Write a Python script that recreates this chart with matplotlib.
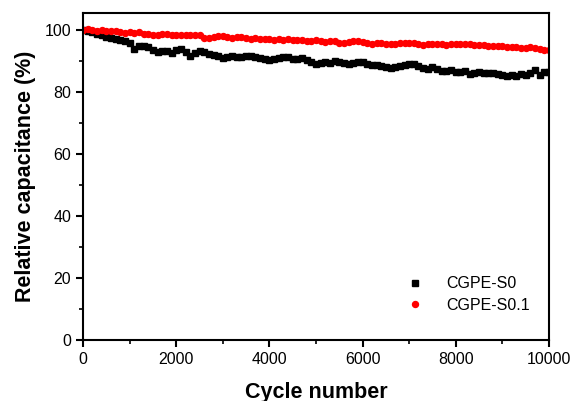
import matplotlib
matplotlib.use("Agg")
import matplotlib.pyplot as plt
import numpy as np

plt.rcParams['font.family'] = ['Liberation Sans', 'DejaVu Sans']

cycles = list(range(0, 10001, 100))

s0 = [100, 99.6, 99.2, 98.6, 98.2, 97.8, 97.4, 97.1, 96.8, 96.5,
      95.8, 94.0, 94.8, 94.9, 94.4, 93.6, 93.0, 93.2, 93.1, 92.4,
      93.6, 93.8, 92.9, 91.5, 92.6, 93.1, 92.8, 92.2, 92.0, 91.5,
      90.9, 91.2, 91.6, 91.4, 91.3, 91.6, 91.7, 91.3, 90.8, 90.5,
      90.2, 90.6, 90.9, 91.2, 91.1, 90.6, 90.5, 90.8, 90.2, 89.5,
      89.1, 89.4, 89.7, 89.3, 90.1, 89.8, 89.2, 89.1, 89.4, 89.6,
      89.5, 89.0, 88.6, 88.7, 88.4, 88.1, 87.7, 88.0, 88.3, 88.6,
      88.9, 89.1, 88.4, 87.6, 87.5, 87.9, 87.3, 86.6, 86.9, 87.2,
      86.5, 86.3, 86.6, 85.8, 86.2, 86.3, 86.0, 86.2, 86.1, 85.9,
      85.5, 85.2, 85.4, 85.1, 85.9, 85.6, 86.1, 87.0, 85.6, 86.4,
      86.3]

s01 = [100, 100.2, 99.9, 99.6, 99.9, 99.5, 99.6, 99.8, 99.3, 99.1,
       99.2, 98.9, 99.3, 98.8, 98.6, 98.5, 98.2, 98.6, 98.8, 98.5,
       98.4, 98.4, 98.2, 98.3, 98.5, 98.3, 97.5, 97.4, 97.6, 97.9,
       98.0, 97.6, 97.4, 97.6, 97.7, 97.3, 97.2, 97.4, 97.0, 97.1,
       97.2, 96.9, 97.0, 96.8, 97.0, 96.9, 96.7, 96.8, 96.5, 96.4,
       96.6, 96.3, 96.2, 96.5, 96.3, 95.9, 95.8, 96.0, 96.3, 96.4,
       96.1, 95.8, 95.6, 95.9, 95.7, 95.5, 95.3, 95.5, 95.7, 95.8,
       95.9, 95.7, 95.4, 95.0, 95.3, 95.4, 95.3, 95.4, 95.2, 95.5,
       95.4, 95.6, 95.5, 95.3, 95.2, 95.1, 95.0, 94.9, 94.8, 94.9,
       94.7, 94.6, 94.5, 94.5, 94.3, 94.2, 94.4, 94.1, 94.0, 93.6,
       93.4]

labels = ["CGPE-S0", "CGPE-S0.1"]

fig = plt.figure(figsize=(5.73, 4.01), dpi=100)
ax = fig.add_axes([0.145, 0.152, 0.813, 0.816])

ax.plot(cycles, s0, linestyle='none', marker='s', markersize=4, color='black', label=labels[0])
ax.plot(cycles, s01, linestyle='none', marker='o', markersize=4.3, color='red', label=labels[1])

ax.set_xlim(0, 10000)
ax.set_ylim(0, 105.5)
ax.set_xticks(np.arange(0, 10001, 2000))
ax.set_xticks(np.arange(0, 10001, 1000), minor=True)
ax.set_yticks(np.arange(0, 101, 20))
ax.set_yticks(np.arange(0, 101, 10), minor=True)

for s in ax.spines.values():
    s.set_linewidth(1.5)
ax.tick_params(which='major', direction='out', length=5, width=1.5, labelsize=11.5, top=False, right=False)
ax.tick_params(which='minor', direction='out', length=3, width=1.2, top=False, right=False)

ax.set_xlabel("Cycle number", fontsize=15.5, fontweight='bold', labelpad=11)
ax.set_ylabel("Relative capacitance (%)", fontsize=15.5, fontweight='bold', labelpad=6)

ax.legend(loc='lower right', frameon=False, fontsize=11.5, handletextpad=1.2,
          bbox_to_anchor=(0.99, 0.04), labelspacing=0.4, handlelength=1.5)

fig.savefig("out.png", dpi=100)
